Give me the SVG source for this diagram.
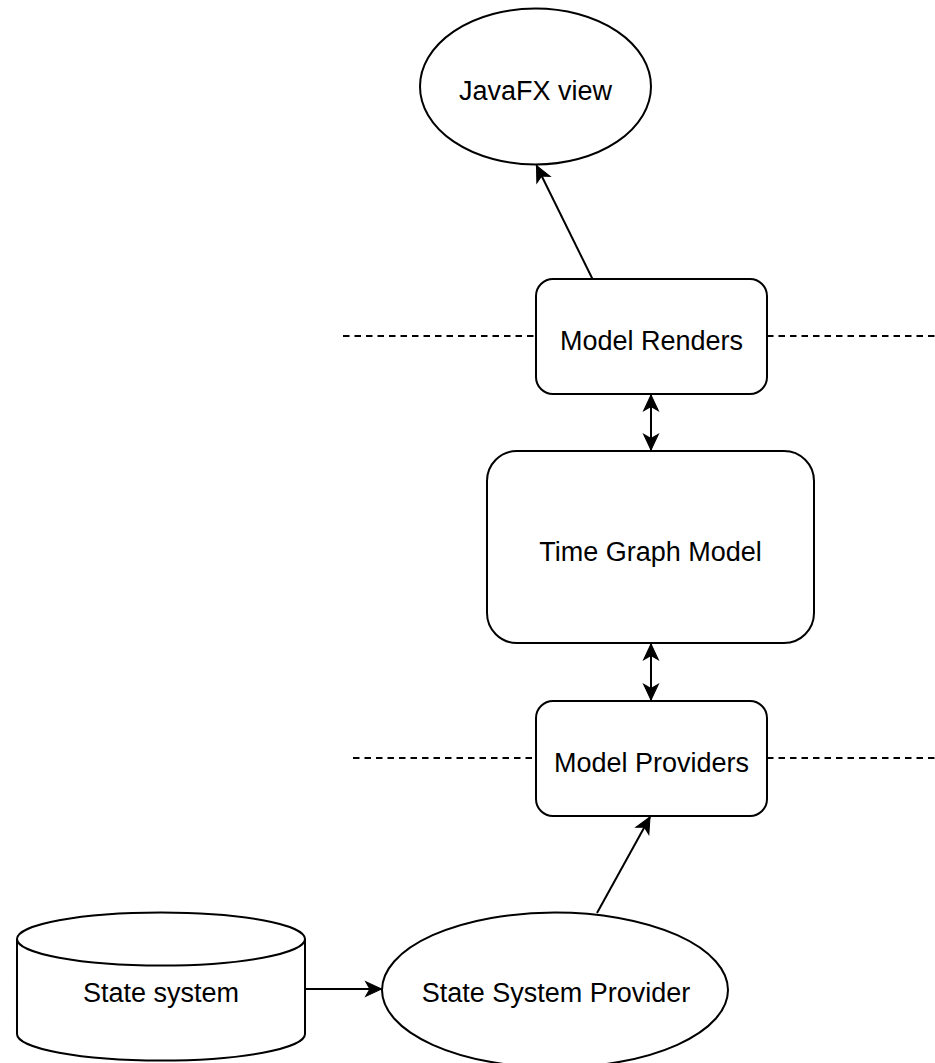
<svg xmlns="http://www.w3.org/2000/svg" width="935" height="1063" viewBox="0 0 935 1063">
  <style>
    .shape { fill: #ffffff; stroke: #000000; stroke-width: 2; }
    .lbl { font-family: "Liberation Sans", Arial, Helvetica, sans-serif; font-size: 27px; fill: #000000; text-anchor: middle; }
    .conn { fill: none; stroke: #000000; stroke-width: 2; }
    .dash { fill: none; stroke: #000000; stroke-width: 2; stroke-dasharray: 6.5 5; }
  </style>
  <defs>
    <marker id="arrow" markerUnits="userSpaceOnUse" markerWidth="20" markerHeight="20" viewBox="-17 -9 19 18" refX="0" refY="0" orient="auto-start-reverse">
      <path d="M0,0 L-15,-7 L-11,0 L-15,7 Z" fill="#000000" stroke="#000000" stroke-width="1"/>
    </marker>
  </defs>
  <rect width="935" height="1063" fill="#ffffff"/>

  <g id="separators">
    <line class="dash" x1="343" y1="336" x2="536" y2="336"/>
    <line class="dash" x1="767" y1="336" x2="935" y2="336"/>
    <line class="dash" x1="353" y1="758" x2="536" y2="758"/>
    <line class="dash" x1="767" y1="758" x2="935" y2="758"/>
  </g>

  <g id="connectors">
    <line class="conn" x1="592.5" y1="279" x2="536.5" y2="165.5" marker-end="url(#arrow)"/>
    <line class="conn" x1="651" y1="395" x2="651" y2="450" marker-start="url(#arrow)" marker-end="url(#arrow)"/>
    <line class="conn" x1="651" y1="644" x2="651" y2="700" marker-start="url(#arrow)" marker-end="url(#arrow)"/>
    <line class="conn" x1="597" y1="913" x2="650" y2="817" marker-end="url(#arrow)"/>
    <line class="conn" x1="305" y1="989" x2="381.5" y2="989" marker-end="url(#arrow)"/>
  </g>

  <g id="javafx-view">
    <ellipse class="shape" cx="535.5" cy="86.5" rx="115.5" ry="78"/>
    <text class="lbl" x="535.5" y="100">JavaFX view</text>
  </g>

  <g id="model-renders">
    <rect class="shape" x="536" y="279" width="231" height="115" rx="17" ry="17"/>
    <text class="lbl" x="651.5" y="350">Model Renders</text>
  </g>

  <g id="time-graph-model">
    <rect class="shape" x="487" y="451" width="327" height="192" rx="30" ry="30"/>
    <text class="lbl" x="650.5" y="561">Time Graph Model</text>
  </g>

  <g id="model-providers">
    <rect class="shape" x="536" y="701" width="231" height="115" rx="17" ry="17"/>
    <text class="lbl" x="651.5" y="772">Model Providers</text>
  </g>

  <g id="state-system">
    <path class="shape" d="M17,939 A144,26.5 0 0 1 305,939 L305,1034 A144,26.5 0 0 1 17,1034 Z"/>
    <path class="conn" d="M17,939 A144,26.5 0 0 0 305,939"/>
    <text class="lbl" x="161" y="1002">State system</text>
  </g>

  <g id="state-system-provider">
    <ellipse class="shape" cx="555" cy="990" rx="173" ry="77.5"/>
    <text class="lbl" x="556" y="1002">State System Provider</text>
  </g>
</svg>
